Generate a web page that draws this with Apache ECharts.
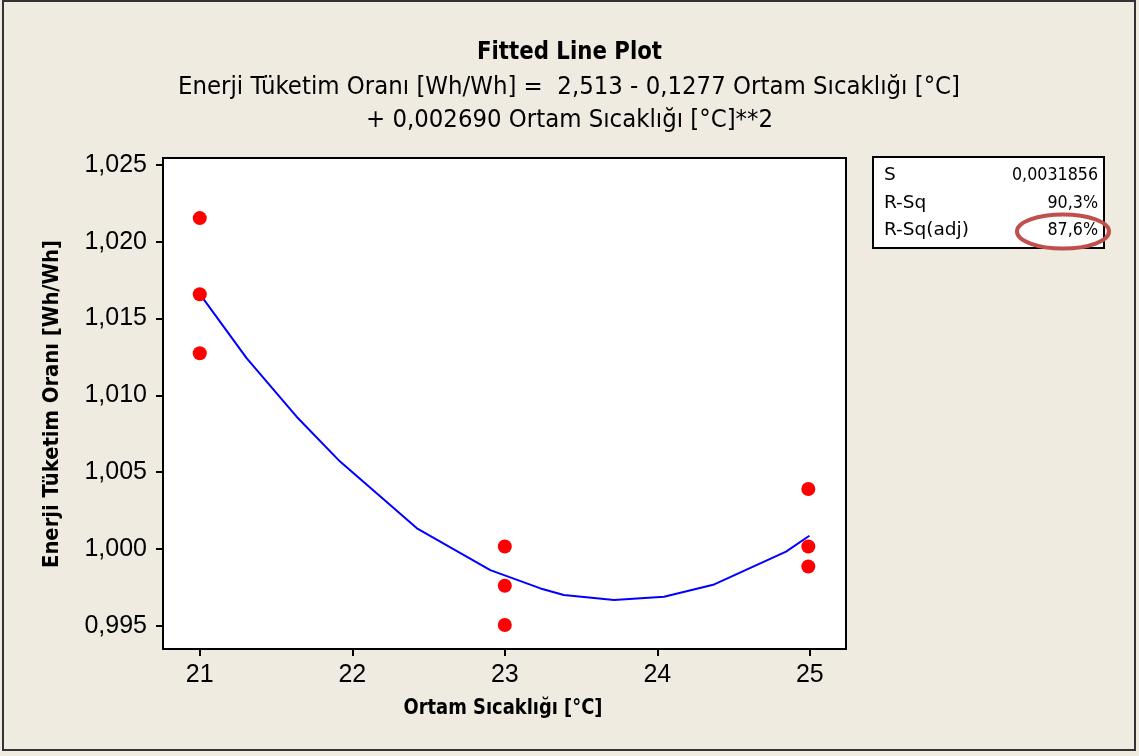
<!DOCTYPE html>
<html>
<head>
<meta charset="utf-8">
<script src="https://cdn.jsdelivr.net/npm/echarts@6/dist/echarts.min.js"></script>
<style>
html,body{margin:0;padding:0;background:#EFEBE1;}
#chart{width:1139px;height:756px;}
</style>
</head>
<body>
<div id="chart"></div>
<script>
// Observed data
const obsX = [21, 21, 21, 23, 23, 23, 24.99, 24.99, 24.99];
const obsY = [1.02153, 1.01658, 1.01274, 1.00017, 0.99761, 0.99506, 1.00391, 1.00017, 0.99887];
// Fitted line vertices
const fitX = [21.0, 21.307, 21.635, 21.92, 22.424, 22.905, 23.234, 23.387, 23.716, 24.044, 24.373, 24.844, 24.997];
const fitY = [1.0166, 1.01242, 1.00861, 1.00569, 1.00135, 0.99863, 0.99744, 0.99701, 0.99668, 0.99690, 0.99770, 0.99983, 1.00087];
// Tick labels
const xTicks = [21, 22, 23, 24, 25];
const yTicks = [0.995, 1.000, 1.005, 1.010, 1.015, 1.020, 1.025];
// Texts
const titleText = 'Fitted Line Plot';
const subLines = ['Enerji Tüketim Oranı [Wh/Wh] =  2,513 - 0,1277 Ortam Sıcaklığı [°C]', '+ 0,002690 Ortam Sıcaklığı [°C]**2'];
const xName = 'Ortam Sıcaklığı [°C]';
const yName = 'Enerji Tüketim Oranı [Wh/Wh]';
const statLabels = ['S', 'R-Sq', 'R-Sq(adj)'];
const statValues = ['0,0031856', '90,3%', '87,6%'];

const FONT = "'DejaVu Sans Condensed', 'DejaVu Sans', sans-serif";
const TICKFONT = "'Liberation Sans', Arial, sans-serif";

const mctx = document.createElement('canvas').getContext('2d');
function fitScale(text, font, target) {
  mctx.font = font;
  return target / mctx.measureText(text).width;
}
function fittedText(text, font, cx, cy, target, rot) {
  const s = fitScale(text, font, target);
  return {type: 'text', x: cx, y: cy, rotation: rot || 0, scaleX: s, silent: true,
    style: {text: text, font: font, fill: '#000', align: 'center', verticalAlign: 'middle'}, z: 50};
}

const chart = echarts.init(document.getElementById('chart'));

const statFont = '17px ' + FONT;
const labelScale = fitScale(statLabels[2], statFont, 85);
const valueScale = fitScale(statValues[0], statFont, 86);
const statRowsY = [176, 203.5, 231];
const statTexts = [];
statLabels.forEach((l, i) => {
  statTexts.push({type: 'text', x: 884, y: statRowsY[i], scaleX: labelScale,
    style: {text: l, font: statFont, fill: '#000', align: 'left', verticalAlign: 'middle'}, z: 60});
  statTexts.push({type: 'text', x: 1098, y: statRowsY[i], scaleX: valueScale,
    style: {text: statValues[i], font: statFont, fill: '#000', align: 'right', verticalAlign: 'middle'}, z: 60});
});

const titleFont = 'bold 25px ' + FONT;
const subFont = '25px ' + FONT;
const axisTitleFont = 'bold 22px ' + FONT;

const option = {
  backgroundColor: '#EFEBE1',
  animation: false,
  grid: {left: 163, top: 158, width: 683, height: 491, show: true,
    backgroundColor: '#fff', borderColor: '#000', borderWidth: 2, containLabel: false},
  xAxis: {
    type: 'value', min: 20.759, max: 25.237,
    axisLine: {show: true, lineStyle: {color: '#000', width: 2}},
    axisTick: {show: true, length: 7, lineStyle: {color: '#000', width: 2}, customValues: xTicks},
    axisLabel: {customValues: xTicks, margin: 14, fontFamily: TICKFONT, fontSize: 25, color: '#000'},
    splitLine: {show: false}
  },
  yAxis: {
    type: 'value', min: 0.9935, max: 1.02544,
    axisLine: {show: true, lineStyle: {color: '#000', width: 2}},
    axisTick: {show: true, length: 7, lineStyle: {color: '#000', width: 2}, customValues: yTicks},
    axisLabel: {customValues: yTicks, margin: 16, fontFamily: TICKFONT, fontSize: 25, color: '#000',
      formatter: v => v.toFixed(3).replace('.', ',')},
    splitLine: {show: false}
  },
  series: [
    {type: 'line', data: fitX.map((x, i) => [x, fitY[i]]), showSymbol: false, symbol: 'none',
      lineStyle: {color: '#0000FF', width: 2}, z: 2},
    {type: 'scatter', data: obsX.map((x, i) => [x, obsY[i]]), symbolSize: 14,
      itemStyle: {color: '#FF0000', opacity: 1}, z: 3}
  ],
  graphic: [
    {type: 'rect', shape: {x: 3, y: 1, width: 1132, height: 749}, style: {fill: 'none', stroke: '#333', lineWidth: 2}, silent: true},
    fittedText(titleText, titleFont, 569.5, 52, 185),
    fittedText(subLines[0], subFont, 569, 87, 782),
    fittedText(subLines[1], subFont, 569.5, 120, 407),
    fittedText(yName, axisTitleFont, 52, 404, 328, Math.PI / 2),
    fittedText(xName, axisTitleFont, 503, 708, 199),
    {type: 'rect', shape: {x: 873, y: 157, width: 231, height: 91}, style: {fill: '#fff', stroke: '#000', lineWidth: 2}, z: 40},
    ...statTexts,
    {type: 'ellipse', shape: {cx: 1063, cy: 231.5, rx: 46, ry: 17}, style: {fill: 'none', stroke: '#C0504D', lineWidth: 4}, z: 100}
  ]
};
chart.setOption(option);
</script>
</body>
</html>
